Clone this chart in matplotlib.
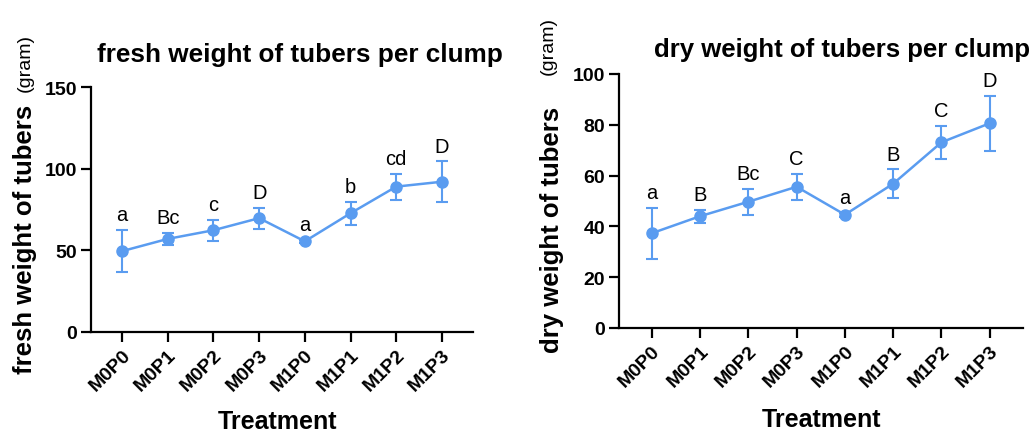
import numpy as np
import matplotlib
matplotlib.use('Agg')
import matplotlib.pyplot as plt

plt.rcParams['font.family'] = ['Liberation Sans', 'DejaVu Sans']

treatments = ['M0P0', 'M0P1', 'M0P2', 'M0P3', 'M1P0', 'M1P1', 'M1P2', 'M1P3']

fresh_mean = [49.5, 57, 62.3, 69.7, 55.5, 72.7, 89, 92]
fresh_err = [13, 3.5, 6.5, 6.5, 1, 7, 8, 12.5]
fresh_letters = ['a', 'Bc', 'c', 'D', 'a', 'b', 'cd', 'D']

dry_mean = [37.3, 44, 49.7, 55.6, 44.6, 56.8, 73.1, 80.6]
dry_err = [10, 2.6, 5.2, 5.2, 0.8, 5.6, 6.6, 10.9]
dry_letters = ['a', 'B', 'Bc', 'C', 'a', 'B', 'C', 'D']

color = '#5a9cf0'

fig = plt.figure(figsize=(10.35, 4.35), dpi=100)
ax1 = fig.add_axes([0.0879, 0.2345, 0.3691, 0.5632])
ax2 = fig.add_axes([0.598, 0.2437, 0.390, 0.5839])


def draw(ax, mean, err, letters, ymax, step):
    x = np.arange(len(treatments))
    ax.errorbar(x, mean, yerr=err, color=color, marker='o', markersize=8,
                linewidth=1.8, elinewidth=1.5, capsize=4, capthick=1.5)
    for xi, m, e, lab in zip(x, mean, err, letters):
        ax.annotate(lab, (xi, m + e), xytext=(0, 7), textcoords='offset points',
                    ha='center', va='baseline', fontsize=14.5)
    ax.set_xlim(-0.68, 7.68)
    ax.set_ylim(0, ymax)
    ax.set_yticks(np.arange(0, ymax + 1, step))
    ax.set_xticks(x)
    ax.set_xticklabels(treatments, rotation=45, ha='right', rotation_mode='anchor',
                       fontweight='bold', fontsize=14)
    for t in ax.get_yticklabels():
        t.set_fontweight('bold')
        t.set_fontsize(14)
    ax.spines['top'].set_visible(False)
    ax.spines['right'].set_visible(False)
    ax.spines['left'].set_linewidth(1.6)
    ax.spines['bottom'].set_linewidth(1.6)
    ax.tick_params(direction='out', length=7, width=1.6, pad=3)


draw(ax1, fresh_mean, fresh_err, fresh_letters, 150, 50)
draw(ax2, dry_mean, dry_err, dry_letters, 100, 20)

fig.text(0.29, 0.874, 'fresh weight of tubers per clump', ha='center', va='center',
         fontsize=18.8, fontweight='bold')
fig.text(0.814, 0.885, 'dry weight of tubers per clump', ha='center', va='center',
         fontsize=18.5, fontweight='bold')

fig.text(0.024, 0.45, 'fresh weight of tubers', rotation=90, ha='center', va='center',
         fontsize=18.5, fontweight='bold')
fig.text(0.024, 0.855, '(gram)', rotation=90, ha='center', va='center', fontsize=14)
fig.text(0.533, 0.472, 'dry weight of tubers', rotation=90, ha='center', va='center',
         fontsize=18.5, fontweight='bold')
fig.text(0.530, 0.894, '(gram)', rotation=90, ha='center', va='center', fontsize=14)

fig.text(0.268, 0.03, 'Treatment', ha='center', va='center', fontsize=18, fontweight='bold')
fig.text(0.794, 0.034, 'Treatment', ha='center', va='center', fontsize=18, fontweight='bold')

fig.savefig('out.png', dpi=100)
